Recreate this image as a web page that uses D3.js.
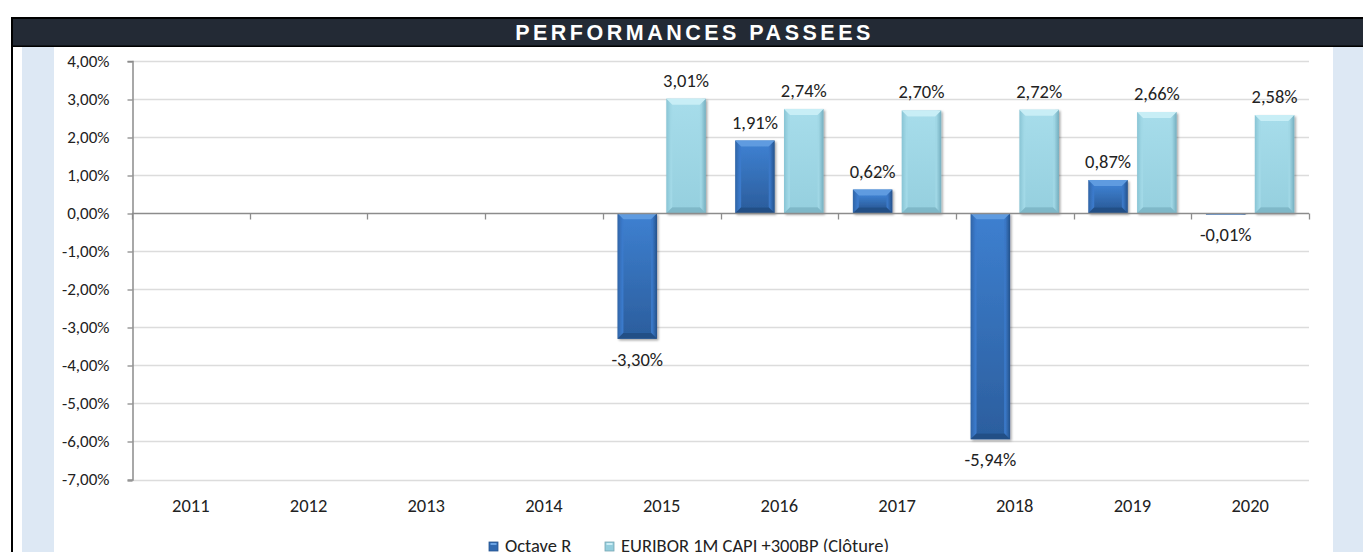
<!DOCTYPE html>
<html>
<head>
<meta charset="utf-8">
<script src="https://cdn.jsdelivr.net/npm/d3@7"></script>
<style>
  html, body { margin: 0; padding: 0; background: #fff; }
  svg { display: block; font-family: Carlito, Lato, "Liberation Sans", sans-serif; }
</style>
</head>
<body>
<div id="chart"></div>
<script>
// --- Data ---
const years = ["2011", "2012", "2013", "2014", "2015", "2016", "2017", "2018", "2019", "2020"];
const octave = [null, null, null, null, -3.30, 1.91, 0.62, -5.94, 0.87, -0.01];
const euribor = [null, null, null, null, 3.01, 2.74, 2.70, 2.72, 2.66, 2.58];
const yTicks = [4, 3, 2, 1, 0, -1, -2, -3, -4, -5, -6, -7];
const seriesNames = ["Octave R", "EURIBOR 1M CAPI +300BP (Clôture)"];
const title = "PERFORMANCES PASSEES";

const W = 1363, H = 552;
const margin = { top: 61, left: 132, right: 1309, bottom: 479.5 };

const svg = d3.select("#chart").append("svg")
  .attr("width", W).attr("height", H);

const defs = svg.append("defs");

// Gradients for bevelled bars
function hGrad(id, stops) {
  const g = defs.append("linearGradient").attr("id", id)
    .attr("x1", "0").attr("x2", "1").attr("y1", "0").attr("y2", "0");
  stops.forEach(s => g.append("stop").attr("offset", s[0]).attr("stop-color", s[1]));
}
function vGrad(id, stops) {
  const g = defs.append("linearGradient").attr("id", id)
    .attr("x1", "0").attr("x2", "0").attr("y1", "0").attr("y2", "1");
  stops.forEach(s => g.append("stop").attr("offset", s[0]).attr("stop-color", s[1]));
}
vGrad("octBody", [[0, "#3d7fcf"], [1, "#2c5f9f"]]);
hGrad("octSide", [[0, "#2f64a6"], [0.12, "#3b7acb"], [0.88, "#3a78c7"], [1, "#24518a"]]);
vGrad("eurBody", [[0, "#a6dcea"], [1, "#96d0df"]]);
hGrad("eurSide", [[0, "#88c4d4"], [0.12, "#a2d9e7"], [0.88, "#a0d7e5"], [1, "#74aebf"]]);

const shadow = defs.append("filter").attr("id", "shadow")
  .attr("x", "-20%").attr("y", "-10%").attr("width", "140%").attr("height", "130%");
shadow.append("feDropShadow").attr("dx", 1.5).attr("dy", 1.5).attr("stdDeviation", 1.2)
  .attr("flood-color", "#000").attr("flood-opacity", 0.35);

// --- Frame / title bar ---
svg.append("rect").attr("x", 22).attr("y", 47).attr("width", 32).attr("height", H - 47).attr("fill", "#dde8f4");
svg.append("rect").attr("x", 1333).attr("y", 47).attr("width", 30).attr("height", H - 47).attr("fill", "#dde8f4");
svg.append("rect").attr("x", 11).attr("y", 17).attr("width", 2).attr("height", H - 17).attr("fill", "#000");
svg.append("rect").attr("x", 11).attr("y", 17).attr("width", W - 11).attr("height", 30).attr("fill", "#000");
svg.append("rect").attr("x", 13).attr("y", 19).attr("width", W - 13).attr("height", 26.5).attr("fill", "#232a35");
svg.append("text")
  .attr("x", 694.5).attr("y", 40)
  .attr("text-anchor", "middle")
  .attr("fill", "#fff")
  .style("font-family", "'Liberation Sans', Arial, sans-serif")
  .style("font-weight", "bold")
  .style("font-size", "21.5px")
  .style("letter-spacing", "3.5px")
  .text(title);

// --- Scales ---
const x = d3.scaleBand().domain(years).range([margin.left, margin.right]);
const xs = d3.scaleBand().domain([0, 1]).range([0, x.bandwidth()])
  .paddingInner(0.19).paddingOuter(0.3);
const y = d3.scaleLinear().domain([-7, 4]).range([margin.bottom, margin.top]);

const fmt = v => d3.format(".2f")(v).replace(".", ",").replace("−", "-") + "%";

// --- Gridlines ---
svg.append("g").selectAll("line").data(yTicks.filter(d => d !== 0)).join("line")
  .attr("x1", margin.left).attr("x2", margin.right)
  .attr("y1", d => Math.round(y(d)) + 0.5).attr("y2", d => Math.round(y(d)) + 0.5)
  .attr("stroke", "#dcdcdc").attr("stroke-width", 1.3);

// --- Y axis ---
const yAxis = svg.append("g")
  .attr("transform", `translate(${margin.left + 0.5},0)`)
  .call(d3.axisLeft(y).tickValues(yTicks).tickSize(5).tickPadding(18).tickFormat(fmt));
yAxis.select(".domain").attr("stroke", "#8c8c8c").attr("stroke-width", 1.5);
yAxis.selectAll(".tick line").attr("stroke", "#8c8c8c").attr("stroke-width", 1.3)
  .attr("transform", d => `translate(0,${Math.round(y(d)) + 0.5 - y(d)})`);
yAxis.selectAll(".tick text").attr("fill", "#222").style("font-size", "17px")
  .style("font-family", "Carlito, Lato, sans-serif");

// --- Bars ---
function drawBar(g, xPos, w, val, body, side, top, bottom) {
  const y0 = y(0), y1 = y(val);
  const yt = Math.min(y0, y1), h = Math.abs(y1 - y0);
  const bar = g.append("g").attr("filter", "url(#shadow)");
  bar.append("rect").attr("x", xPos).attr("y", yt).attr("width", w).attr("height", Math.max(h, 1.5))
    .attr("fill", `url(#${side})`);
  const b = Math.min(6, h / 3);
  bar.append("rect").attr("x", xPos + b).attr("y", yt + b).attr("width", w - 2 * b).attr("height", Math.max(h - 2 * b, 0))
    .attr("fill", `url(#${body})`);
  bar.append("polygon")
    .attr("points", [[xPos, yt], [xPos + w, yt], [xPos + w - b, yt + b], [xPos + b, yt + b]].map(p => p.join(",")).join(" "))
    .attr("fill", top);
  bar.append("polygon")
    .attr("points", [[xPos, yt + h], [xPos + w, yt + h], [xPos + w - b, yt + h - b], [xPos + b, yt + h - b]].map(p => p.join(",")).join(" "))
    .attr("fill", bottom);
}

const barsG = svg.append("g");
const labelsG = svg.append("g");
const series = [
  { values: octave, body: "octBody", side: "octSide", top: "#5e9be0", bottom: "#234f86" },
  { values: euribor, body: "eurBody", side: "eurSide", top: "#c8eef6", bottom: "#7fb8c8" }
];
series.forEach((s, si) => {
  s.values.forEach((v, i) => {
    if (v === null) return;
    const bx = x(years[i]) + xs(si);
    drawBar(barsG, bx, xs.bandwidth(), v, s.body, s.side, s.top, s.bottom);
    labelsG.append("text")
      .attr("x", bx + xs.bandwidth() / 2)
      .attr("y", v >= 0 ? y(v) - 12 : Math.max(y(v), y(0) + 1) + 27)
      .attr("text-anchor", "middle")
      .attr("fill", "#222")
      .style("font-size", "18.5px")
      .text(fmt(v));
  });
});

// --- X axis at zero ---
const xAxis = svg.append("g")
  .attr("transform", `translate(0,${Math.round(y(0)) + 0.5})`);
xAxis.append("line").attr("x1", margin.left).attr("x2", margin.right)
  .attr("stroke", "#8c8c8c").attr("stroke-width", 1.5);
xAxis.selectAll(".xt").data(years.concat(["end"])).join("line")
  .attr("x1", (d, i) => Math.round(margin.left + i * x.step()) + 0.5)
  .attr("x2", (d, i) => Math.round(margin.left + i * x.step()) + 0.5)
  .attr("y1", 0).attr("y2", 6)
  .attr("stroke", "#8c8c8c").attr("stroke-width", 1.3);

// Year labels below plot
svg.append("g").selectAll("text").data(years).join("text")
  .attr("x", d => x(d) + x.bandwidth() / 2)
  .attr("y", 512)
  .attr("text-anchor", "middle")
  .attr("fill", "#222")
  .style("font-size", "18.5px")
  .text(d => d);

// --- Legend ---
const legend = svg.append("g");
const legItems = [
  { x: 489, color: "#2f68b0", hi: "#6aa3e4" },
  { x: 605, color: "#94cedd", hi: "#cdeef6" }
];
legItems.forEach((it, i) => {
  legend.append("rect").attr("x", it.x).attr("y", 542).attr("width", 9).attr("height", 9)
    .attr("fill", it.color).attr("stroke", d3.color(it.color).darker(0.6)).attr("stroke-width", 0.8);
  legend.append("rect").attr("x", it.x + 1.5).attr("y", 543).attr("width", 6).attr("height", 2)
    .attr("fill", it.hi);
  legend.append("text").attr("x", it.x + 16).attr("y", 552)
    .attr("fill", "#222").style("font-size", "18.5px").text(seriesNames[i]);
});
</script>
</body>
</html>
